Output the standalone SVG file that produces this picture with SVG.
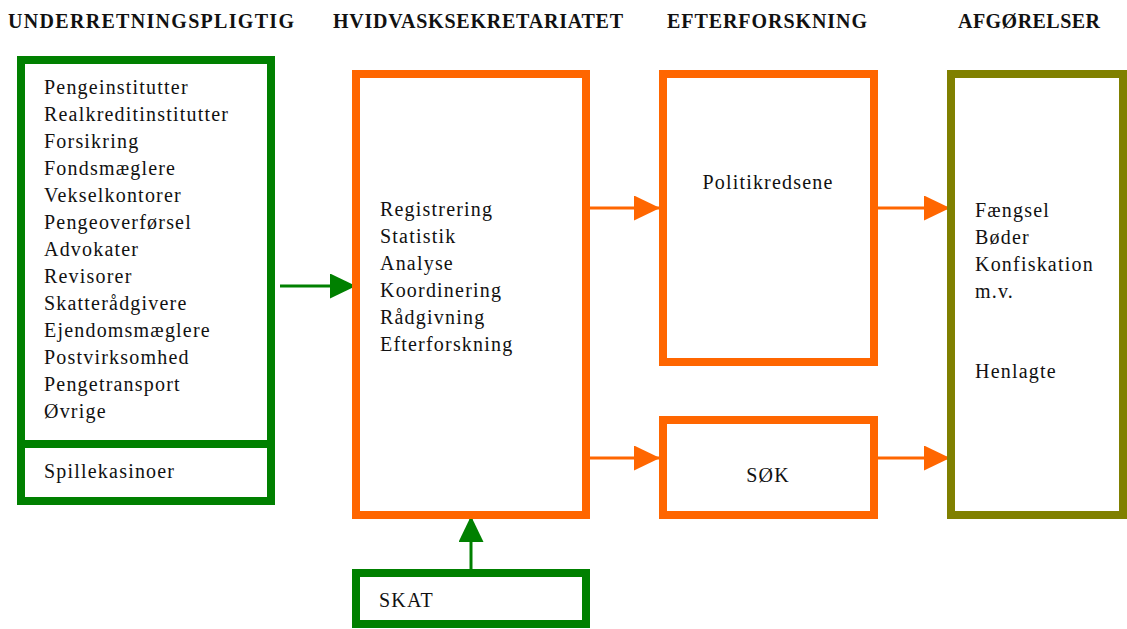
<svg xmlns="http://www.w3.org/2000/svg" width="1127" height="629" viewBox="0 0 1127 629" font-family="'Liberation Serif', 'DejaVu Serif', serif">
<style>
text{fill:#111}
.h{font-size:20px;font-weight:bold}
.t{font-size:20px;letter-spacing:1.2px}
.g{fill:#fff;stroke:#008000;stroke-width:8}
.o{fill:#fff;stroke:#FF6600;stroke-width:8}
.v{fill:#fff;stroke:#808000;stroke-width:8}
.lg{stroke:#008000;stroke-width:3;fill:none}
.lo{stroke:#FF6600;stroke-width:3;fill:none}
</style>
<defs>
<marker id="ag" viewBox="0 0 26 25" refX="26" refY="12.5" markerWidth="26" markerHeight="25" markerUnits="userSpaceOnUse" orient="auto"><path d="M0,0 L26,12.5 L0,25 Z" fill="#008000"/></marker>
<marker id="ao" viewBox="0 0 26 25" refX="26" refY="12.5" markerWidth="26" markerHeight="25" markerUnits="userSpaceOnUse" orient="auto"><path d="M0,0 L26,12.5 L0,25 Z" fill="#FF6600"/></marker>
</defs>
<g id="headers">
<text class="h" x="8" y="28" textLength="286" lengthAdjust="spacing">UNDERRETNINGSPLIGTIG</text>
<text class="h" x="333" y="28" textLength="290" lengthAdjust="spacing">HVIDVASKSEKRETARIATET</text>
<text class="h" x="667" y="28" textLength="200" lengthAdjust="spacing">EFTERFORSKNING</text>
<text class="h" x="958" y="28" textLength="142" lengthAdjust="spacing">AFGØRELSER</text>
</g>
<g id="connectors">
<line class="lg" x1="280" y1="286" x2="356" y2="286" marker-end="url(#ag)"/>
<line class="lg" x1="471" y1="569" x2="471" y2="516" marker-end="url(#ag)"/>
<line class="lo" x1="590" y1="208" x2="660" y2="208" marker-end="url(#ao)"/>
<line class="lo" x1="590" y1="458" x2="660" y2="458" marker-end="url(#ao)"/>
<line class="lo" x1="878" y1="208" x2="950" y2="208" marker-end="url(#ao)"/>
<line class="lo" x1="878" y1="458" x2="950" y2="458" marker-end="url(#ao)"/>
</g>
<g id="underretningspligtige">
<rect class="g" x="21" y="60" width="250" height="384"/>
<text class="t" x="44" y="94">Pengeinstitutter</text>
<text class="t" x="44" y="121">Realkreditinstitutter</text>
<text class="t" x="44" y="148">Forsikring</text>
<text class="t" x="44" y="175">Fondsmæglere</text>
<text class="t" x="44" y="202">Vekselkontorer</text>
<text class="t" x="44" y="229">Pengeoverførsel</text>
<text class="t" x="44" y="256">Advokater</text>
<text class="t" x="44" y="283">Revisorer</text>
<text class="t" x="44" y="310">Skatterådgivere</text>
<text class="t" x="44" y="337">Ejendomsmæglere</text>
<text class="t" x="44" y="364">Postvirksomhed</text>
<text class="t" x="44" y="391">Pengetransport</text>
<text class="t" x="44" y="418">Øvrige</text>
</g>
<g id="spillekasinoer">
<rect class="g" x="21" y="444" width="250" height="57"/>
<text class="t" x="44" y="478">Spillekasinoer</text>
</g>
<g id="hvidvasksekretariatet">
<rect class="o" x="356" y="74" width="230" height="441"/>
<text class="t" x="380" y="216">Registrering</text>
<text class="t" x="380" y="243">Statistik</text>
<text class="t" x="380" y="270">Analyse</text>
<text class="t" x="380" y="297">Koordinering</text>
<text class="t" x="380" y="324">Rådgivning</text>
<text class="t" x="380" y="351">Efterforskning</text>
</g>
<g id="skat">
<rect class="g" x="356" y="573" width="230" height="51"/>
<text class="t" x="379" y="607">SKAT</text>
</g>
<g id="politikredsene">
<rect class="o" x="663" y="74" width="211" height="288"/>
<text class="t" x="768" y="189" text-anchor="middle">Politikredsene</text>
</g>
<g id="sok">
<rect class="o" x="663" y="420" width="211" height="95"/>
<text class="t" x="768" y="482" text-anchor="middle">SØK</text>
</g>
<g id="afgorelser">
<rect class="v" x="951" y="74" width="172" height="441"/>
<text class="t" x="975" y="217">Fængsel</text>
<text class="t" x="975" y="244">Bøder</text>
<text class="t" x="975" y="271">Konfiskation</text>
<text class="t" x="975" y="298">m.v.</text>
<text class="t" x="975" y="378">Henlagte</text>
</g>
</svg>
